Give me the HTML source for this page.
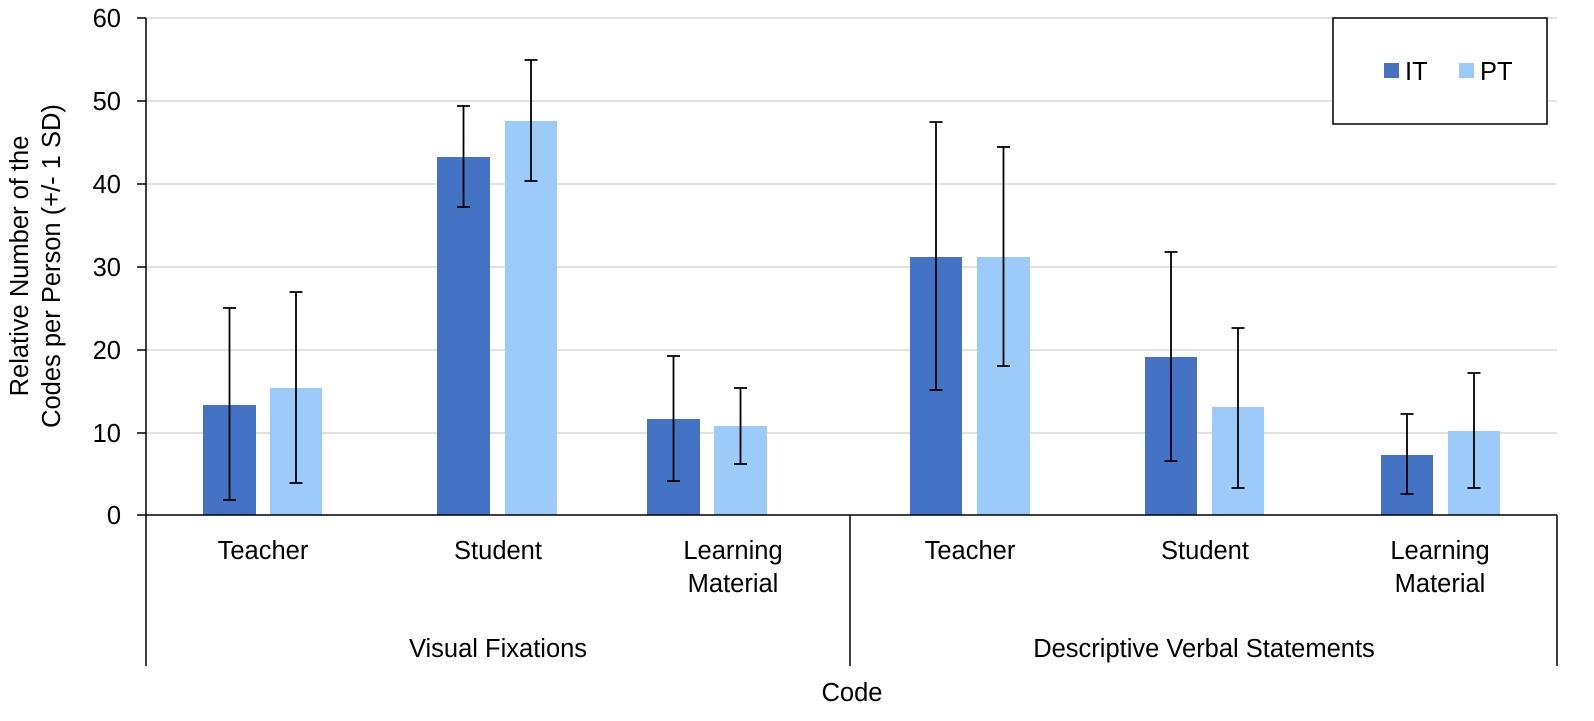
<!DOCTYPE html>
<html><head><style>body{margin:0;background:#fff}svg{display:block}text{font-family:"Liberation Sans",Arial,sans-serif;fill:#000}</style></head><body>
<svg width="1594" height="721" xmlns="http://www.w3.org/2000/svg">
<g stroke="#d9d9d9" stroke-width="1.5">
<line x1="146" x2="1557" y1="18" y2="18"/><line x1="146" x2="1557" y1="101" y2="101"/><line x1="146" x2="1557" y1="184" y2="184"/><line x1="146" x2="1557" y1="267" y2="267"/><line x1="146" x2="1557" y1="350" y2="350"/><line x1="146" x2="1557" y1="433" y2="433"/>
</g>
<g stroke="#000" stroke-width="1.5">
<line x1="137" x2="146" y1="18" y2="18"/><line x1="137" x2="146" y1="101" y2="101"/><line x1="137" x2="146" y1="184" y2="184"/><line x1="137" x2="146" y1="267" y2="267"/><line x1="137" x2="146" y1="350" y2="350"/><line x1="137" x2="146" y1="433" y2="433"/><line x1="137" x2="146" y1="515" y2="515"/>
</g>
<g font-size="25.5" text-anchor="end">
<text x="121" y="524">0</text><text x="121" y="442">10</text><text x="121" y="359">20</text><text x="121" y="276">30</text><text x="121" y="193">40</text><text x="121" y="110">50</text><text x="121" y="27">60</text>
</g>
<g>
<rect x="203" y="405" width="53" height="110" fill="#4472C4"/><rect x="270" y="388" width="52" height="127" fill="#9DCBF9"/>
<rect x="437" y="157" width="53" height="358" fill="#4472C4"/><rect x="505" y="121" width="52" height="394" fill="#9DCBF9"/>
<rect x="647" y="419" width="53" height="96" fill="#4472C4"/><rect x="714" y="426" width="53" height="89" fill="#9DCBF9"/>
<rect x="910" y="257" width="52" height="258" fill="#4472C4"/><rect x="977" y="257" width="53" height="258" fill="#9DCBF9"/>
<rect x="1145" y="357" width="52" height="158" fill="#4472C4"/><rect x="1212" y="407" width="52" height="108" fill="#9DCBF9"/>
<rect x="1381" y="455" width="52" height="60" fill="#4472C4"/><rect x="1448" y="431" width="52" height="84" fill="#9DCBF9"/>
</g>
<g stroke="#000" stroke-width="1.8" fill="none">
<path d="M229.5 500V308M223 500h13M223 308h13"/>
<path d="M296 483V292M289.5 483h13M289.5 292h13"/>
<path d="M463.5 207V106M457 207h13M457 106h13"/>
<path d="M531 181V60M524.5 181h13M524.5 60h13"/>
<path d="M673.5 481V356M667 481h13M667 356h13"/>
<path d="M740.5 464V388M734 464h13M734 388h13"/>
<path d="M936 390V122M929.5 390h13M929.5 122h13"/>
<path d="M1003.5 366V147M997 366h13M997 147h13"/>
<path d="M1171 461V252M1164.5 461h13M1164.5 252h13"/>
<path d="M1238 488V328M1231.5 488h13M1231.5 328h13"/>
<path d="M1407 494V414M1400.5 494h13M1400.5 414h13"/>
<path d="M1474 488V373M1467.5 488h13M1467.5 373h13"/>
</g>
<g stroke="#000" stroke-width="1.5">
<line x1="146" x2="146" y1="18" y2="666"/>
<line x1="146" x2="1557" y1="515" y2="515"/>
<line x1="850" x2="850" y1="515" y2="666"/>
<line x1="1557" x2="1557" y1="515" y2="666"/>
</g>
<g font-size="25.5" text-anchor="middle">
<text x="263" y="559">Teacher</text><text x="498" y="559">Student</text>
<text x="733" y="559">Learning</text><text x="733" y="592">Material</text>
<text x="970" y="559">Teacher</text><text x="1205" y="559">Student</text>
<text x="1440" y="559">Learning</text><text x="1440" y="592">Material</text>
<text x="498" y="657">Visual Fixations</text>
<text x="1204" y="657">Descriptive Verbal Statements</text>
<text x="852" y="701">Code</text>
<text transform="translate(28 266) rotate(-90)">Relative Number of the</text>
<text transform="translate(60 266) rotate(-90)">Codes per Person (+/- 1 SD)</text>
</g>
<rect x="1333" y="18" width="214" height="106" fill="#fff" stroke="#000" stroke-width="1.5"/>
<rect x="1384" y="63" width="15" height="15" fill="#4472C4"/><text x="1405" y="80" font-size="25.5">IT</text>
<rect x="1459" y="63" width="15" height="15" fill="#9DCBF9"/><text x="1480" y="80" font-size="25.5">PT</text>
</svg>
</body></html>
